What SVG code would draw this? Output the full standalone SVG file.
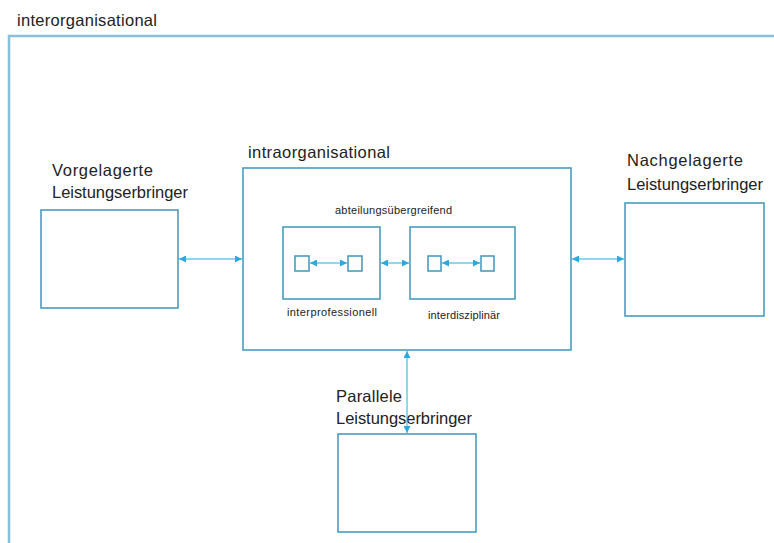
<svg xmlns="http://www.w3.org/2000/svg" width="774" height="543" viewBox="0 0 774 543">
<defs>
<style>
.box{fill:#fff;stroke:#4a9cc0;stroke-width:1.6}
.frame{fill:none;stroke:#86c1d9;stroke-width:2.5}
.lbl{font-family:"Liberation Sans",Arial,sans-serif;fill:#222}
.big{font-size:16.5px}
.sm{font-size:11px}
.con{stroke:#29abe2;stroke-width:1;fill:none;marker-start:url(#ah);marker-end:url(#ah)}
</style>
<marker id="ah" viewBox="0 0 10 10" refX="10" refY="5" markerWidth="7" markerHeight="7" orient="auto-start-reverse" markerUnits="userSpaceOnUse">
<path d="M0,0 L10,5 L0,10 z" fill="#29abe2"/>
</marker>
</defs>
<rect width="774" height="543" fill="#fff"/>
<g id="interorganisational">
<path class="frame" d="M9,543 L9,36 L774,36"/>
<text class="lbl big" x="17" y="26" textLength="140">interorganisational</text>
</g>
<g id="vorgelagerte">
<rect class="box" x="41" y="210" width="137" height="98"/>
<text class="lbl big" x="52" y="176" textLength="101">Vorgelagerte</text>
<text class="lbl big" x="52" y="198" textLength="136">Leistungserbringer</text>
</g>
<g id="intraorganisational">
<rect class="box" x="243" y="168" width="328" height="182"/>
<text class="lbl big" x="248" y="158" textLength="142">intraorganisational</text>
<text class="lbl sm" x="335" y="214" textLength="117">abteilungsübergreifend</text>
</g>
<g id="interprofessionell">
<rect class="box" x="283" y="227" width="97" height="72"/>
<rect class="box" x="295" y="256" width="14" height="15"/>
<rect class="box" x="348" y="256" width="14" height="15"/>
<text class="lbl sm" x="287" y="316" textLength="90">interprofessionell</text>
</g>
<g id="interdisziplinaer">
<rect class="box" x="410" y="227" width="105" height="72"/>
<rect class="box" x="428" y="256" width="13" height="15"/>
<rect class="box" x="481" y="256" width="13" height="15"/>
<text class="lbl sm" x="428" y="319" textLength="72">interdisziplinär</text>
</g>
<g id="nachgelagerte">
<rect class="box" x="625" y="203" width="139" height="113"/>
<text class="lbl big" x="627" y="166" textLength="116">Nachgelagerte</text>
<text class="lbl big" x="627" y="190" textLength="136">Leistungserbringer</text>
</g>
<g id="parallele">
<rect class="box" x="338" y="434" width="138" height="98"/>
<text class="lbl big" x="336" y="402" textLength="66">Parallele</text>
<text class="lbl big" x="336" y="424" textLength="136">Leistungserbringer</text>
</g>
<g id="connectors">
<line class="con" x1="179" y1="259" x2="242" y2="259"/>
<line class="con" x1="572" y1="259" x2="624" y2="259"/>
<line class="con" x1="407" y1="351" x2="407" y2="433"/>
<line class="con" x1="381" y1="263" x2="409" y2="263"/>
<line class="con" x1="310" y1="263" x2="347" y2="263"/>
<line class="con" x1="442" y1="263" x2="480" y2="263"/>
</g>
</svg>
